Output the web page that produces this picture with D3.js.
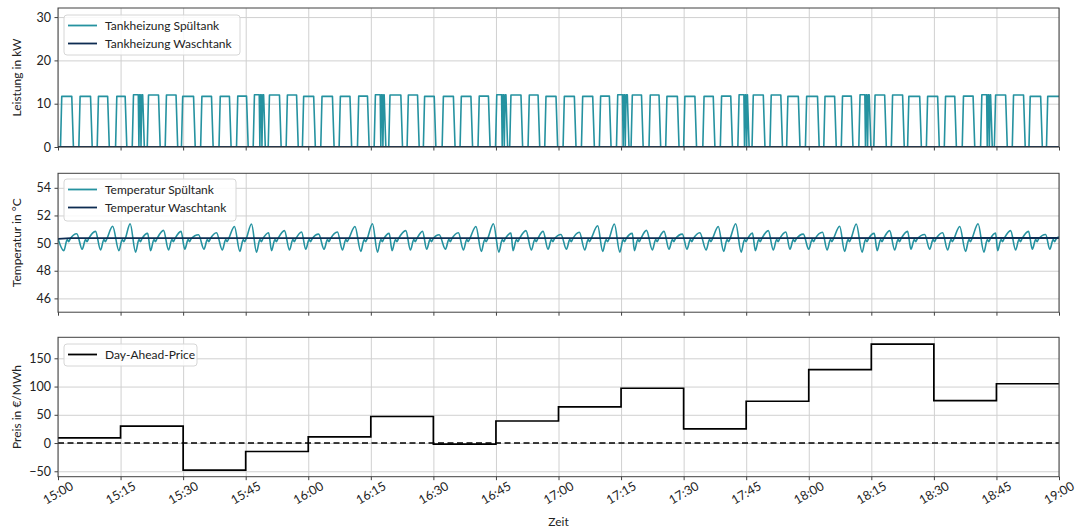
<!DOCTYPE html>
<html>
<head>
<meta charset="utf-8">
<script src="https://cdn.jsdelivr.net/npm/d3@7"></script>
<style>
  body { margin: 0; background: #fff; }
  text { font-family: Lato, "Open Sans", sans-serif; fill: #222; }
</style>
</head>
<body>
<script>
// ---------------- DATA ----------------
// time axis: minutes after 15:00
const tickMinutes = [0,15,30,45,60,75,90,105,120,135,150,165,180,195,210,225,240];
const tickLabels = ["15:00","15:15","15:30","15:45","16:00","16:15","16:30","16:45","17:00","17:15","17:30","17:45","18:00","18:15","18:30","18:45","19:00"];

// Tankheizung Spültank: heating pulses (on / off, minutes) and power level (kW)
const spuelOn  = [0.6,5.0,9.4,13.8,17.8,21.4,25.7,29.6,34.2,38.6,42.8,46.8,50.4,54.7,58.6,63.0,67.4,71.8,75.8,79.3,83.7,87.6,92.1,96.4,100.7,104.9,108.3,112.7,116.7,121.1,125.5,129.8,133.9,137.4,141.7,145.7,150.0,154.6,158.8,163.0,166.4,170.7,174.7,179.2,183.6,187.8,192.0,195.6,199.8,203.7,208.2,212.5,216.8,221.2,224.5,228.8,232.8,237.0];
const spuelOff = [3.7,8.2,12.3,16.5,20.7,24.5,28.7,32.9,37.2,41.5,45.6,49.7,53.5,57.6,61.7,66.2,70.4,74.6,78.6,82.6,86.6,90.6,95.2,99.4,103.6,107.8,111.4,115.5,119.8,124.2,128.6,132.6,136.9,140.3,144.5,148.9,153.1,157.5,161.7,165.7,169.5,173.7,177.9,182.5,186.6,190.6,194.9,198.6,202.9,207.0,211.3,215.4,219.8,224.0,227.6,231.9,236.0,240];
const spuelLevel = [11.7,11.7,11.7,11.7,12.05,12.0,12.0,11.7,11.7,11.7,11.75,12.05,12.0,12.0,11.7,11.7,11.7,11.75,12.05,12.0,12.0,11.7,11.7,11.7,11.75,12.05,12.0,12.0,11.7,11.7,11.7,11.75,12.05,12.0,12.0,11.7,11.7,11.7,11.75,12.05,12.0,12.0,11.7,11.7,11.7,11.75,12.05,12.0,12.0,11.7,11.7,11.7,11.75,12.05,12.0,12.0,11.7,11.7];
// pulses with short dropouts (indices)
const spuelDouble = [4,11,18,25,32,39,46,53];
// Tankheizung Waschtank (kW): off all the time
const waschPower = [[0,0],[240,0]];

// Temperatur Spültank: trough / peak per heating cycle (°C)
const tempTrough = [49.45,49.55,49.5,49.45,49.35,49.45,49.5,49.55,49.55,49.5,49.4,49.35,49.45,49.5,49.55,49.55,49.5,49.4,49.35,49.45,49.5,49.55,49.55,49.5,49.4,49.35,49.45,49.5,49.55,49.55,49.5,49.4,49.35,49.45,49.5,49.55,49.55,49.5,49.4,49.35,49.45,49.5,49.55,49.55,49.5,49.4,49.35,49.45,49.5,49.55,49.55,49.5,49.4,49.35,49.45,49.5,49.55,49.55];
const tempPeak   = [50.68,50.85,51.22,51.4,50.7,50.92,50.85,50.6,50.75,51.2,51.38,50.75,50.9,50.8,50.65,50.8,51.2,51.4,50.7,50.9,50.85,50.6,50.75,51.2,51.4,50.72,50.9,50.85,50.62,50.78,51.25,51.38,50.7,50.92,50.85,50.65,50.75,51.2,51.4,50.72,50.9,50.8,50.65,50.78,51.22,51.38,50.7,50.9,50.85,50.62,50.75,51.2,51.4,50.72,50.9,50.85,50.62,50.45];
const tempShoulder = [50.25, 50.1, 50.3];   // small shoulder during heating
const tempStart = 50.32;
// Temperatur Waschtank (°C)
const waschTemp = [[0,50.30],[3,50.36],[120,50.36],[240,50.37]];

// Day-Ahead-Price per quarter hour (€/MWh)
const priceStart = [0,15,30,45,60,75,90,105,120,135,150,165,180,195,210,225];
const priceValue = [9,30,-48,-15,11,47,-2,39,64,97,25,74,130,175,75,105];

// ---------------- LAYOUT ----------------
const W = 1080, H = 528;
const X0 = 58, X1 = 1059;
const panels = [
  {top: 8,     bottom: 147,   domain: [0, 32.1],     ticks: [0,10,20,30],        label: "Leistung in kW"},
  {top: 173.3, bottom: 312.2, domain: [45, 55.05],   ticks: [46,48,50,52,54],    label: "Temperatur in °C"},
  {top: 337.3, bottom: 476.7, domain: [-59.6, 187.2],ticks: [-50,0,50,100,150],  label: "Preis in €/MWh"}
];
const cSpuel = "#2592a0", cWasch = "#0d2c52";
const gridColor = "#d0d0d0", spineColor = "#404040";
const fs = 12.5;

const svg = d3.select("body").append("svg").attr("width", W).attr("height", H);
const x = d3.scaleLinear().domain([0, 240]).range([X0, X1]);

panels.forEach((p, i) => {
  p.y = d3.scaleLinear().domain(p.domain).range([p.bottom, p.top]);
  const g = svg.append("g");
  p.g = g;
  svg.append("clipPath").attr("id", "clip" + i).append("rect")
    .attr("x", X0).attr("y", p.top).attr("width", X1 - X0).attr("height", p.bottom - p.top);
  const gx = g.append("g").attr("transform", `translate(0,${p.bottom})`)
    .call(d3.axisBottom(x).tickValues(tickMinutes).tickSize(-(p.bottom - p.top)).tickFormat(""));
  const gy = g.append("g").attr("transform", `translate(${X0},0)`)
    .call(d3.axisLeft(p.y).tickValues(p.ticks).tickSize(-(X1 - X0)).tickFormat(""));
  [gx, gy].forEach(a => { a.select(".domain").remove(); a.selectAll("line").attr("stroke", gridColor).attr("stroke-width", 1); });
  p.plot = g.append("g").attr("clip-path", `url(#clip${i})`);
});

function finishPanel(p, showX) {
  const g = p.g;
  const ay = g.append("g").attr("transform", `translate(${X0},0)`)
    .call(d3.axisLeft(p.y).tickValues(p.ticks).tickSize(3.5).tickPadding(3.5).tickFormat(d => d < 0 ? "\u2212" + Math.abs(d) : d));
  ay.select(".domain").remove();
  ay.selectAll("line").attr("stroke", spineColor);
  ay.selectAll("text").attr("font-size", fs).attr("fill", "#222").style("font-family", "Lato, sans-serif");
  const ax = g.append("g").attr("transform", `translate(0,${p.bottom})`)
    .call(d3.axisBottom(x).tickValues(tickMinutes).tickSize(3.5).tickFormat(""));
  ax.select(".domain").remove();
  ax.selectAll("line").attr("stroke", spineColor);
  if (showX) {
    tickMinutes.forEach((m, k) => {
      g.append("text")
        .attr("transform", `translate(${x(m)},${p.bottom + 16}) rotate(-30)`)
        .attr("text-anchor", "middle").attr("dominant-baseline", "central")
        .attr("font-size", fs).text(tickLabels[k]);
    });
  }
  g.append("rect").attr("x", X0).attr("y", p.top).attr("width", X1 - X0).attr("height", p.bottom - p.top)
    .attr("fill", "none").attr("stroke", spineColor).attr("stroke-width", 1);
  g.append("text").attr("transform", `translate(16,${(p.top + p.bottom) / 2}) rotate(-90)`)
    .attr("text-anchor", "middle").attr("dominant-baseline", "central").attr("font-size", 12).text(p.label);
}

function legend(p, box, items) {
  const g = p.g.append("g");
  g.append("rect").attr("x", box.x).attr("y", box.y).attr("width", box.w).attr("height", box.h)
    .attr("rx", 3).attr("fill", "#fff").attr("fill-opacity", 0.85).attr("stroke", "#d6d6d6");
  items.forEach((it, k) => {
    const yy = box.y + 10.5 + k * 18;
    g.append("line").attr("x1", box.x + 4).attr("x2", box.x + 33).attr("y1", yy).attr("y2", yy)
      .attr("stroke", it.color).attr("stroke-width", 1.8);
    g.append("text").attr("x", box.x + 41).attr("y", yy).attr("dominant-baseline", "central")
      .attr("font-size", 12).text(it.label);
  });
}

// ---------------- PANEL 1: power ----------------
{
  const p = panels[0];
  const pts = [[0, 0]];
  spuelOn.forEach((s, i) => {
    const e = spuelOff[i], L = spuelLevel[i];
    pts.push([s, 0], [s + 0.3, L]);
    if (spuelDouble.includes(i)) {
      pts.push([s + 1.45, L], [s + 1.6, 0], [s + 1.75, L], [s + 1.95, L], [s + 2.1, 0], [s + 2.3, L]);
    }
    if (e < 240) pts.push([e - 0.4, L], [e, 0]);
    else pts.push([240, L]);
  });
  const line = d3.line().x(d => x(d[0])).y(d => p.y(d[1]));
  p.plot.append("path").datum(pts).attr("d", line).attr("fill", "none")
    .attr("stroke", cSpuel).attr("stroke-width", 1.6).attr("stroke-linejoin", "round");
  p.plot.append("path").datum(waschPower).attr("d", line).attr("fill", "none")
    .attr("stroke", cWasch).attr("stroke-width", 1.8);
  finishPanel(p, false);
  legend(p, {x: 64, y: 15, w: 176, h: 40}, [
    {color: cSpuel, label: "Tankheizung Spültank"},
    {color: cWasch, label: "Tankheizung Waschtank"}]);
}

// ---------------- PANEL 2: temperature ----------------
{
  const p = panels[1];
  const pts = [[0, tempStart]];
  spuelOn.forEach((s, i) => {
    const e = spuelOff[i];
    pts.push([s + 0.8, tempTrough[i]], [s + 1.6, tempShoulder[0]], [s + 1.95, tempShoulder[1]], [s + 2.3, tempShoulder[2]]);
    pts.push([Math.min(e + 0.8, 240), tempPeak[i]]);
  });
  const line = d3.line().curve(d3.curveMonotoneX).x(d => x(d[0])).y(d => p.y(d[1]));
  const flat = d3.line().x(d => x(d[0])).y(d => p.y(d[1]));
  p.plot.append("path").datum(pts).attr("d", line).attr("fill", "none")
    .attr("stroke", cSpuel).attr("stroke-width", 1.6).attr("stroke-linejoin", "round");
  p.plot.append("path").datum(waschTemp).attr("d", flat).attr("fill", "none")
    .attr("stroke", cWasch).attr("stroke-width", 1.8);
  finishPanel(p, false);
  legend(p, {x: 64, y: 179, w: 172, h: 42}, [
    {color: cSpuel, label: "Temperatur Spültank"},
    {color: cWasch, label: "Temperatur Waschtank"}]);
}

// ---------------- PANEL 3: price ----------------
{
  const p = panels[2];
  const pts = priceStart.map((m, i) => [m, priceValue[i]]);
  pts.push([240, priceValue[priceValue.length - 1]]);
  const line = d3.line().curve(d3.curveStepAfter).x(d => x(d[0])).y(d => p.y(d[1]));
  p.plot.append("line").attr("x1", X0).attr("x2", X1).attr("y1", p.y(0)).attr("y2", p.y(0))
    .attr("stroke", "#000").attr("stroke-width", 1.6).attr("stroke-dasharray", "6,3.5");
  p.plot.append("path").datum(pts).attr("d", line).attr("fill", "none")
    .attr("stroke", "#000").attr("stroke-width", 1.7);
  finishPanel(p, true);
  legend(p, {x: 64, y: 344, w: 133, h: 22}, [{color: "#000", label: "Day-Ahead-Price"}]);
  svg.append("text").attr("x", (X0 + X1) / 2).attr("y", 521).attr("text-anchor", "middle")
    .attr("dominant-baseline", "central").attr("font-size", 12).text("Zeit");
}
</script>
</body>
</html>
